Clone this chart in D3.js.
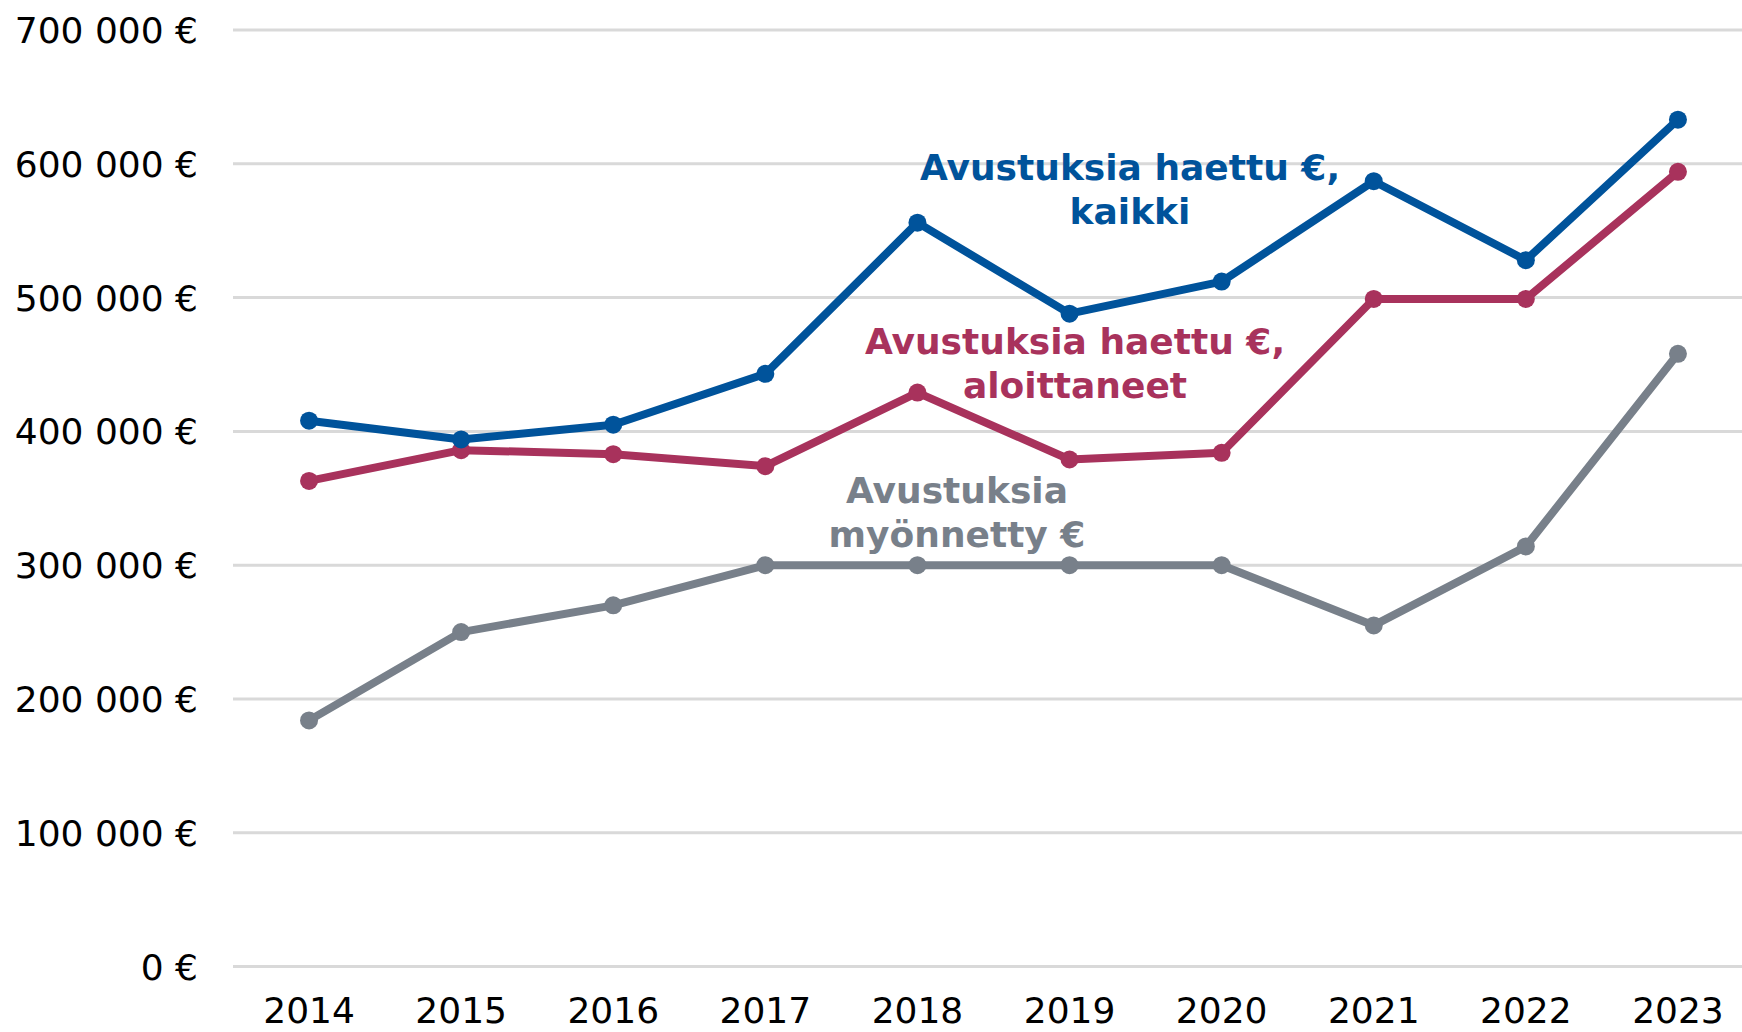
<!DOCTYPE html>
<html>
<head>
<meta charset="utf-8">
<script src="https://cdn.jsdelivr.net/npm/d3@7"></script>
<style>
  body { margin: 0; background: #fff; }
  svg { display: block; font-family: "DejaVu Sans", Verdana, sans-serif; }
</style>
</head>
<body>
<div id="chart"></div>
<script>
const years = [2014, 2015, 2016, 2017, 2018, 2019, 2020, 2021, 2022, 2023];
const haettuKaikki = [408000, 394000, 405000, 443000, 556000, 488000, 512000, 587000, 528000, 633000];
const haettuAloittaneet = [363000, 386000, 383000, 374000, 429000, 379000, 384000, 499000, 499000, 594000];
const myonnetty = [184000, 250000, 270000, 300000, 300000, 300000, 300000, 255000, 314000, 458000];
const yTicks = [0, 100000, 200000, 300000, 400000, 500000, 600000, 700000];

const series = [
    { values: haettuKaikki, color: '#00539b', label: ['Avustuksia haettu €,', 'kaikki'], lx: 1130, ly: 180 },
    { values: haettuAloittaneet, color: '#a8325c', label: ['Avustuksia haettu €,', 'aloittaneet'], lx: 1075, ly: 354 },
    { values: myonnetty, color: '#78808a', label: ['Avustuksia', 'myönnetty €'], lx: 957, ly: 503 }
];

const width = 1742, height = 1032;
const plotLeft = 233, plotTop = 30, plotBottom = 966.6;

const svg = d3.select('#chart').append('svg')
    .attr('width', width)
    .attr('height', height);

const x = d3.scaleBand().domain(years).range([plotLeft, plotLeft + 152.1 * years.length]);
const y = d3.scaleLinear().domain([0, 700000]).range([plotBottom, plotTop]);

const fmt = v => d3.format(',')(v).replace(/,/g, ' ') + ' €';

// grid
svg.append('g')
    .selectAll('line')
    .data(yTicks)
    .enter().append('line')
    .attr('x1', plotLeft)
    .attr('x2', width)
    .attr('y1', d => y(d))
    .attr('y2', d => y(d))
    .attr('stroke', '#d9d9d9')
    .attr('stroke-width', 3);

// y labels
svg.append('g')
    .selectAll('text')
    .data(yTicks)
    .enter().append('text')
    .attr('x', 198)
    .attr('y', d => y(d))
    .attr('dy', '0.36em')
    .attr('text-anchor', 'end')
    .attr('font-size', 36)
    .attr('fill', '#000')
    .text(fmt);

// x labels
svg.append('g')
    .selectAll('text')
    .data(years)
    .enter().append('text')
    .attr('x', d => x(d) + x.bandwidth() / 2)
    .attr('y', 1023)
    .attr('text-anchor', 'middle')
    .attr('font-size', 36)
    .attr('fill', '#000')
    .text(d => d);

const line = d3.line()
    .x((d, i) => x(years[i]) + x.bandwidth() / 2)
    .y(d => y(d));

series.slice().reverse().forEach(s => {
    const g = svg.append('g');
    g.append('path')
        .datum(s.values)
        .attr('d', line)
        .attr('fill', 'none')
        .attr('stroke', s.color)
        .attr('stroke-width', 8)
        .attr('stroke-linejoin', 'round');
    g.selectAll('circle')
        .data(s.values)
        .enter().append('circle')
        .attr('cx', (d, i) => x(years[i]) + x.bandwidth() / 2)
        .attr('cy', d => y(d))
        .attr('r', 9)
        .attr('fill', s.color);
});

// series labels
series.forEach(s => {
    const t = svg.append('text')
        .attr('text-anchor', 'middle')
        .attr('font-size', 36)
        .attr('font-weight', 'bold')
        .attr('fill', s.color);
    s.label.forEach((l, i) => {
        t.append('tspan')
            .attr('x', s.lx)
            .attr('y', s.ly + i * 44)
            .text(l);
    });
});
</script>
</body>
</html>
